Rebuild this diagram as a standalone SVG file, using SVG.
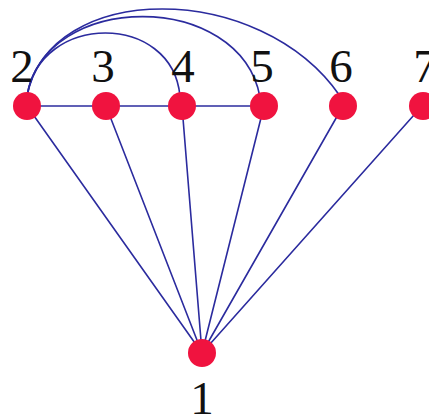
<svg xmlns="http://www.w3.org/2000/svg" width="429" height="414" viewBox="0 0 429 414">
<style>
.e{stroke:#2b2b9e;stroke-width:1.6;fill:none}
.n{fill:#f0133f}
.t{font-family:"Liberation Serif",serif;font-size:47px;fill:#111;text-anchor:middle}
</style>
<rect width="429" height="414" fill="#fff"/>
<g id="edges">
<path class="e" d="M27,106 H264"/>
<path class="e" d="M202,353 L27,106 M202,353 L106,106 M202,353 L182,106 M202,353 L264,106 M202,353 L343,106 M202,353 L422,106"/>
<path class="e" d="M27,96 C40,12 172,12 180,96"/>
<path class="e" d="M27,96 C45,-10 240,-10 260,97"/>
<path class="e" d="M27,96 C50,-20 260,-20 340,96"/>
</g>
<g id="n1"><circle class="n" cx="202" cy="353" r="14"/><text class="t" x="202" y="414">1</text></g>
<g id="n2"><circle class="n" cx="27" cy="106" r="14"/><text class="t" x="22" y="82">2</text></g>
<g id="n3"><circle class="n" cx="106" cy="106" r="14"/><text class="t" x="103" y="82">3</text></g>
<g id="n4"><circle class="n" cx="182" cy="106" r="14"/><text class="t" x="183" y="82">4</text></g>
<g id="n5"><circle class="n" cx="264" cy="106" r="14"/><text class="t" x="262" y="82">5</text></g>
<g id="n6"><circle class="n" cx="343" cy="106" r="14"/><text class="t" x="341" y="82">6</text></g>
<g id="n7"><circle class="n" cx="423" cy="106" r="14"/><text class="t" x="425" y="82">7</text></g>
</svg>
